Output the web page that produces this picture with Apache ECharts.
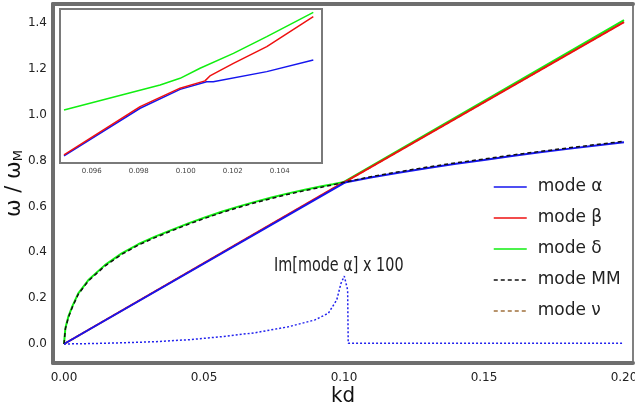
<!DOCTYPE html>
<html>
<head>
<meta charset="utf-8">
<script src="https://cdn.jsdelivr.net/npm/echarts@6/dist/echarts.min.js"></script>
<style>
html,body{margin:0;padding:0;background:#fff;}
#chart{width:635px;height:412px;}
</style>
</head>
<body>
<div id="chart"></div>
<script>
// main plot ticks
var xTicks = [0, 0.05, 0.10, 0.15, 0.20];
var yTicks = [0, 0.2, 0.4, 0.6, 0.8, 1.0, 1.2, 1.4];
var insetTicks = [0.096, 0.098, 0.100, 0.102, 0.104];

var legendNames = ['mode α', 'mode β', 'mode δ', 'mode MM', 'mode ν'];

// mode α (blue)
var alphaKd = [0, 0.0998, 0.1007, 0.11, 0.12, 0.13, 0.14, 0.15, 0.16, 0.17, 0.18, 0.19, 0.20];
var alphaW  = [0, 0.701, 0.705, 0.727, 0.748, 0.768, 0.786, 0.803, 0.820, 0.836, 0.851, 0.866, 0.880];
// mode β (red)
var betaKd = [0, 0.0998, 0.1007, 0.20];
var betaW  = [0, 0.705, 0.709, 1.404];
// mode δ (green)
var deltaKd = [0, 0.0005, 0.00155, 0.003, 0.0051, 0.0087, 0.0146, 0.0206, 0.0265, 0.0325, 0.0385, 0.0444, 0.0503, 0.0563, 0.0622, 0.0682, 0.0741, 0.0801, 0.0860, 0.0920, 0.0960, 0.1000, 0.1007, 0.20];
var deltaW  = [0, 0.070, 0.119, 0.165, 0.221, 0.279, 0.344, 0.395, 0.435, 0.468, 0.498, 0.526, 0.552, 0.577, 0.599, 0.620, 0.639, 0.657, 0.673, 0.688, 0.697, 0.707, 0.712, 1.413];
// mode MM (black dashed)
var mmKd = [0, 0.0005, 0.00155, 0.003, 0.0051, 0.0087, 0.0146, 0.0206, 0.0265, 0.0325, 0.0385, 0.0444, 0.0503, 0.0563, 0.0622, 0.0682, 0.0741, 0.0801, 0.0860, 0.0920, 0.0960, 0.1000, 0.11, 0.12, 0.13, 0.14, 0.15, 0.16, 0.17, 0.18, 0.19, 0.20];
var mmW  = [0, 0.066, 0.115, 0.161, 0.217, 0.275, 0.340, 0.391, 0.431, 0.464, 0.494, 0.522, 0.548, 0.573, 0.595, 0.616, 0.635, 0.653, 0.669, 0.684, 0.694, 0.705, 0.731, 0.752, 0.772, 0.790, 0.807, 0.824, 0.840, 0.855, 0.870, 0.884];
// mode ν (brown dashed)
var nuKd = [0, 0.0998, 0.1007, 0.20];
var nuW  = [0, 0.705, 0.709, 1.404];
// Im[mode α] x 100 (dotted)
var imKd = [0, 0.01, 0.02, 0.0325, 0.045, 0.0563, 0.0682, 0.0801, 0.0896, 0.0944, 0.0974, 0.0989, 0.1001, 0.1013, 0.1015, 0.1993];
var imW  = [0, 0.002, 0.005, 0.010, 0.019, 0.032, 0.049, 0.075, 0.105, 0.134, 0.192, 0.264, 0.296, 0.235, 0.003, 0.003];

// inset
var inDeltaKd = [0.09482, 0.09891, 0.09976, 0.10061, 0.10203, 0.10345, 0.10543];
var inDeltaW  = [0.6938, 0.7065, 0.7099, 0.7150, 0.7226, 0.7311, 0.7434];
var inBetaKd = [0.09482, 0.09806, 0.09976, 0.10082, 0.10103, 0.10203, 0.10345, 0.10543];
var inBetaW  = [0.6710, 0.6955, 0.7049, 0.7086, 0.7111, 0.7175, 0.7260, 0.7412];
var inAlphaKd = [0.09482, 0.09806, 0.09976, 0.10089, 0.10117, 0.10345, 0.10543];
var inAlphaW  = [0.6705, 0.6947, 0.7043, 0.7082, 0.7082, 0.7133, 0.7192];

function pairs(xs, ys) {
    var out = [];
    for (var i = 0; i < xs.length; i++) out.push([xs[i], ys[i]]);
    return out;
}

var tickFont = {fontFamily: 'DejaVu Sans', fontSize: 12, color: '#222'};

var option = {
    backgroundColor: '#fff',
    animation: false,
    legend: {
        data: legendNames,
        orient: 'vertical',
        left: 493,
        top: 177,
        padding: 0,
        itemWidth: 33,
        itemHeight: 14,
        itemGap: 11,
        itemStyle: {opacity: 0},
        lineStyle: {width: 1.5},
        textStyle: {fontFamily: 'DejaVu Sans', fontSize: 17, lineHeight: 20, color: '#222', padding: [0, 0, 0, 6]}
    },
    graphic: [{
        type: 'text',
        left: 274,
        top: 256,
        scaleX: 0.72,
        style: {text: 'Im[mode α] x 100', fontFamily: 'DejaVu Sans', fontSize: 20, fill: '#222'}
    }],
    grid: [
        {left: 53, right: 2, top: 4, bottom: 49, outerBoundsMode: 'none'},
        {left: 60, right: 313, top: 9, bottom: 249, outerBoundsMode: 'none', show: true, backgroundColor: '#fff', borderColor: '#7a7a7a', borderWidth: 2, z: 5}
    ],
    xAxis: [
        {
            gridIndex: 0, type: 'value', min: -0.00393, max: 0.20321,
            name: 'kd', nameLocation: 'middle', nameGap: 22, nameMoveOverlap: false,
            nameTextStyle: {fontFamily: 'DejaVu Sans Condensed', fontSize: 22, color: '#111'},
            axisLine: {onZero: false, lineStyle: {color: '#6e6e6e', width: 4}},
            axisTick: {show: false},
            splitLine: {show: false},
            axisLabel: Object.assign({customValues: xTicks, margin: 9, formatter: function (v) { return v.toFixed(2); }}, tickFont)
        },
        {
            gridIndex: 0, type: 'value', position: 'top', min: 0, max: 1,
            axisLine: {show: true, onZero: false, lineStyle: {color: '#6e6e6e', width: 4}},
            axisTick: {show: false}, axisLabel: {show: false}, splitLine: {show: false}
        },
        {
            gridIndex: 1, type: 'value', min: 0.09465, max: 0.1058,
            axisLine: {show: false, onZero: false},
            axisTick: {show: false},
            splitLine: {show: false},
            axisLabel: {customValues: insetTicks, margin: 5, fontFamily: 'DejaVu Sans', fontSize: 7, color: '#444',
                formatter: function (v) { return v.toFixed(3); }}
        }
    ],
    yAxis: [
        {
            gridIndex: 0, type: 'value', min: -0.0829, max: 1.4829,
            name: '{a|ω / ω}{s|M}', nameLocation: 'middle', nameGap: 28, nameRotate: 90, nameMoveOverlap: false,
            nameTextStyle: {
                rich: {
                    a: {fontFamily: 'DejaVu Sans', fontSize: 21, color: '#111'},
                    s: {fontFamily: 'DejaVu Sans', fontSize: 13, color: '#111', padding: [8, 0, 0, 0]}
                }
            },
            axisLine: {onZero: false, lineStyle: {color: '#6e6e6e', width: 4}},
            axisTick: {show: false},
            splitLine: {show: false},
            axisLabel: Object.assign({customValues: yTicks, margin: 6, formatter: function (v) { return v.toFixed(1); }}, tickFont)
        },
        {
            gridIndex: 0, type: 'value', position: 'right', min: 0, max: 1,
            axisLine: {show: true, onZero: false, lineStyle: {color: '#808080', width: 2}},
            axisTick: {show: false}, axisLabel: {show: false}, splitLine: {show: false}
        },
        {
            gridIndex: 1, type: 'value', min: 0.6669, max: 0.7451,
            axisLine: {show: false, onZero: false}, axisTick: {show: false}, axisLabel: {show: false}, splitLine: {show: false}
        }
    ],
    series: [
        {name: 'mode ν', type: 'line', symbol: 'none', data: pairs(nuKd, nuW), z: 1,
            lineStyle: {color: '#a0703c', width: 1.5, type: [4, 3]}, itemStyle: {color: '#a0703c'}},
        {name: 'mode δ', type: 'line', symbol: 'none', data: pairs(deltaKd, deltaW),
            lineStyle: {color: '#11ee11', width: 2}, itemStyle: {color: '#11ee11'}},
        {name: 'mode β', type: 'line', symbol: 'none', data: pairs(betaKd, betaW),
            lineStyle: {color: '#ee1111', width: 2}, itemStyle: {color: '#ee1111'}},
        {name: 'mode α', type: 'line', symbol: 'none', data: pairs(alphaKd, alphaW),
            lineStyle: {color: '#1515ee', width: 2}, itemStyle: {color: '#1515ee'}},
        {name: 'mode MM', type: 'line', symbol: 'none', data: pairs(mmKd, mmW),
            lineStyle: {color: '#111', width: 1.5, type: [4, 3]}, itemStyle: {color: '#111'}},
        {name: 'Im', type: 'line', symbol: 'none', data: pairs(imKd, imW),
            lineStyle: {color: '#2222ee', width: 1.5, type: [2, 2]}},
        // inset curves
        {name: 'mode δ', type: 'line', symbol: 'none', xAxisIndex: 2, yAxisIndex: 2, z: 6, data: pairs(inDeltaKd, inDeltaW),
            lineStyle: {color: '#11ee11', width: 1.5}},
        {name: 'mode α', type: 'line', symbol: 'none', xAxisIndex: 2, yAxisIndex: 2, z: 6, data: pairs(inAlphaKd, inAlphaW),
            lineStyle: {color: '#1515ee', width: 1.5}},
        {name: 'mode β', type: 'line', symbol: 'none', xAxisIndex: 2, yAxisIndex: 2, z: 6, data: pairs(inBetaKd, inBetaW),
            lineStyle: {color: '#ee1111', width: 1.5}}
    ]
};

var chart = echarts.init(document.getElementById('chart'));
chart.setOption(option);
</script>
</body>
</html>
